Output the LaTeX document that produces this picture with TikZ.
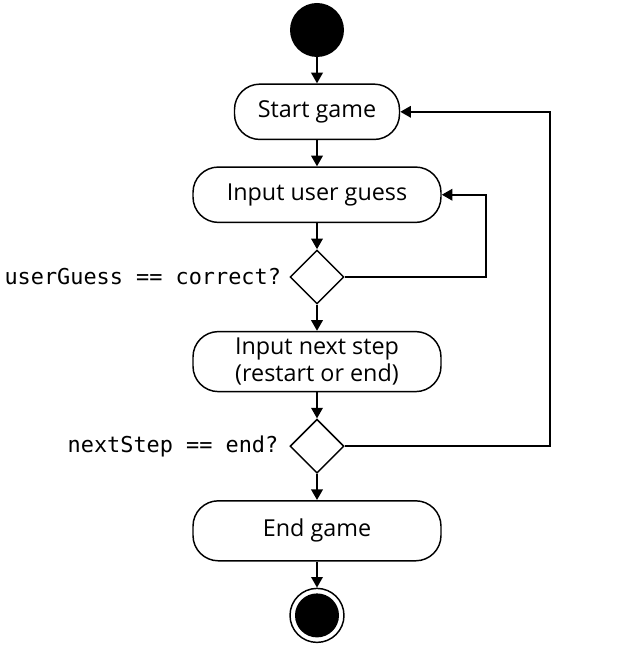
\documentclass[tikz,border=0pt]{standalone}
\usepackage{fontspec}
\setmainfont{Open Sans}
\setmonofont{DejaVu Sans Mono}
\usetikzlibrary{arrows.meta,positioning,shapes.geometric}

\begin{document}
\begin{tikzpicture}[
    font=\fontsize{17.5}{20}\selectfont,
    node distance=19.6pt,
    initial/.style={
      circle,
      fill=black,
      minimum size=40.5pt,
      inner sep=0pt
    },
    final/.style={
      circle,
      draw,
      line width=1.1pt,
      minimum size=40.5pt,
      inner sep=0pt,
      path picture={\fill (path picture bounding box.center) circle (16.5pt);}
    },
    action/.style={
      draw,
      line width=1.1pt,
      rounded corners=19pt,
      align=center,
      minimum width=186pt,
      minimum height=41.5pt,
      inner sep=2pt
    },
    decision/.style={
      diamond,
      draw,
      line width=1.1pt,
      aspect=1,
      minimum size=40.5pt,
      inner sep=0pt
    },
    guard/.style={
      font=\ttfamily\fontsize{16.4}{18}\selectfont,
      inner sep=0pt
    },
    flow/.style={-{Triangle[length=8pt,width=8.5pt]}, line width=1.8pt}
  ]
    \useasboundingbox (-237.75pt,22.5pt) rectangle (233.25pt,-464.25pt);
    \node[initial] (start) at (0,0) {};
    \node[action, minimum width=123.75pt, below=of start] (startgame) {Start game};
    \node[action, below=of startgame] (guess) {Input user guess};
    \node[decision, below=of guess] (d1) {};
    \node[action, minimum height=45pt, below=of d1] (nextstep) {Input next step\\(restart or end)};
    \node[decision, below=of nextstep] (d2) {};
    \node[action, minimum height=45pt, below=of d2] (endgame) {End game};
    \node[final, below=of endgame] (stop) {};
    % guards
    \node[guard, left=6pt of d1] (g1) {userGuess == correct?};
    \node[guard, left=8pt of d2] (g2) {nextStep == end?};
    % main flow
    \draw[flow] (start) -- (startgame);
    \draw[flow] (startgame) -- (guess);
    \draw[flow] (guess) -- (d1);
    \draw[flow] (d1) -- (nextstep);
    \draw[flow] (nextstep) -- (d2);
    \draw[flow] (d2) -- (endgame);
    \draw[flow] (endgame) -- (stop);
    % loops back
    \draw[flow] (d1.east) -- ++(105.75pt,0) |- (guess.east);
    \draw[flow] (d2.east) -- ++(153.75pt,0) |- (startgame.east);
  \end{tikzpicture}
\end{document}
